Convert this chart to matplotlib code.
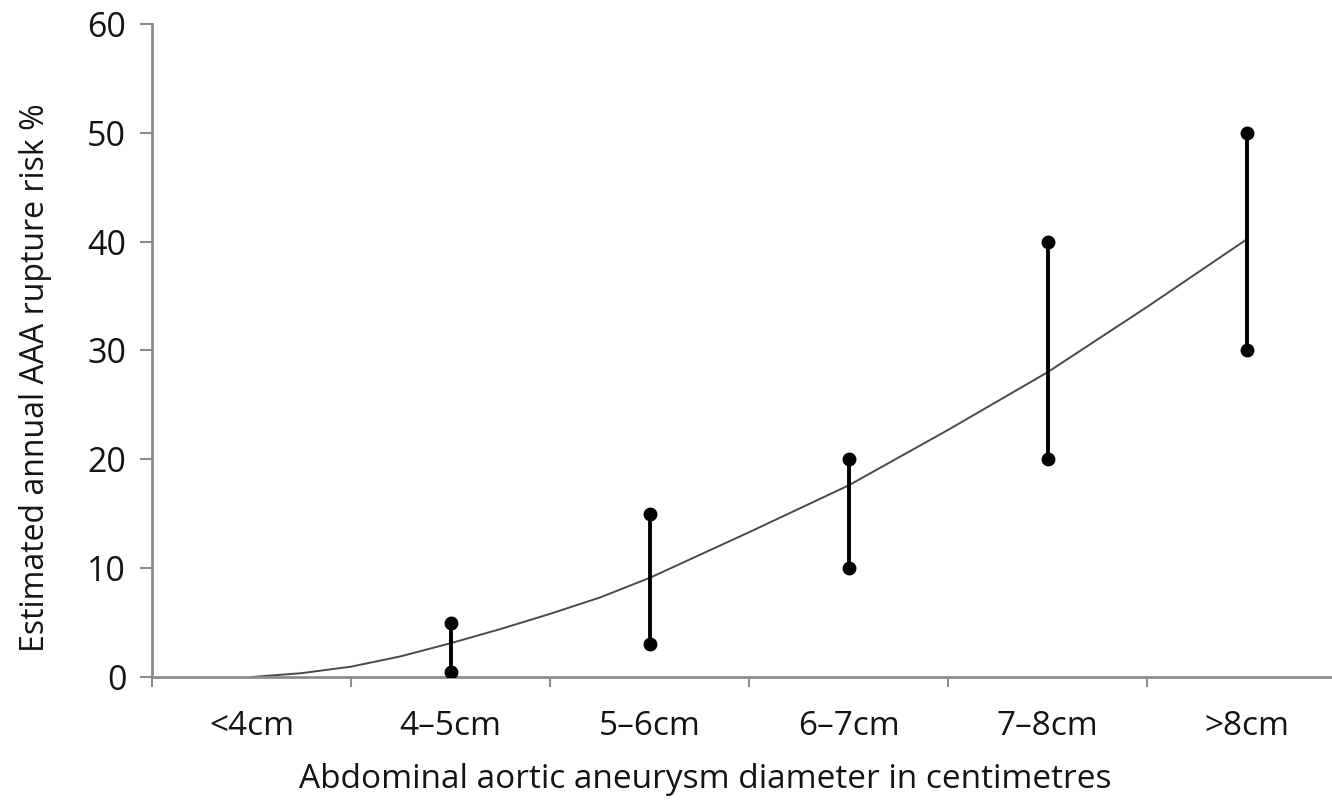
import numpy as np
import matplotlib
matplotlib.use("Agg")
import matplotlib.pyplot as plt

matplotlib.rcParams['font.family'] = ['Open Sans', 'DejaVu Sans']

# data
CATEGORIES = ["<4cm", "4\u20135cm", "5\u20136cm", "6\u20137cm", "7\u20138cm", ">8cm"]
RANGE_POS = [1, 2, 3, 4, 5]
RANGE_LOW = [0.5, 3, 10, 20, 30]
RANGE_HIGH = [5, 15, 20, 40, 50]

# trend curve
CURVE_POS = [0, 0.25, 0.5, 0.75, 1, 1.25, 1.5, 1.75, 2, 2.5, 3, 3.5, 4, 4.5, 5]
CURVE_VAL = [0, 0.35, 0.95, 1.9, 3.1, 4.4, 5.8, 7.3, 9.1, 13.3, 17.6, 22.7, 28.0, 34.0, 40.2]

Y_TICKS = [0, 10, 20, 30, 40, 50, 60]

TEXT_COLOR = "#141414"
AXIS_COLOR = "#8c8c8c"

W, H = 1332, 800
fig = plt.figure(figsize=(W / 100, H / 100), dpi=100)
fig.patch.set_facecolor('white')

# axes run past the right edge of the picture, like the reference crop
ax = fig.add_axes([152 / W, 1 - 677 / H, 1194 / W, (677 - 24) / H])

ax.plot(CURVE_POS, CURVE_VAL, color="#4a4a4a", linewidth=1.4, zorder=2,
        solid_joinstyle="round")

ax.vlines(RANGE_POS, RANGE_LOW, RANGE_HIGH, color="black", linewidth=2.8, zorder=3)
ax.plot(RANGE_POS, RANGE_LOW, "o", color="black", markersize=9, zorder=4)
ax.plot(RANGE_POS, RANGE_HIGH, "o", color="black", markersize=9, zorder=4)

ax.set_xlim(-0.5, len(CATEGORIES) - 0.5)
ax.set_ylim(0, 60)

ax.set_yticks(Y_TICKS)
ax.set_yticklabels([str(v) for v in Y_TICKS])
ax.tick_params(axis="y", direction="out", length=8.5, width=1.5,
               color=AXIS_COLOR, pad=10, labelsize=24.5, labelcolor=TEXT_COLOR)

ax.set_xticks(np.arange(len(CATEGORIES)))
ax.set_xticklabels(CATEGORIES)
ax.set_xticks(np.arange(len(CATEGORIES) + 1) - 0.5, minor=True)
ax.tick_params(axis="x", which="major", length=0, pad=24, labelsize=24,
               labelcolor=TEXT_COLOR)
ax.tick_params(axis="x", which="minor", direction="out", length=7, width=1.5,
               color=AXIS_COLOR)

for side in ["top", "right"]:
    ax.spines[side].set_visible(False)
for side in ["left", "bottom"]:
    ax.spines[side].set_color(AXIS_COLOR)
    ax.spines[side].set_linewidth(2)
ax.set_facecolor("white")

fig.text(705 / W, 1 - 780 / H, "Abdominal aortic aneurysm diameter in centimetres",
         ha="center", va="center", fontsize=24, color=TEXT_COLOR)
fig.text(36 / W, 1 - 378 / H, "Estimated annual AAA rupture risk %",
         ha="center", va="center", rotation=90, fontsize=23, color=TEXT_COLOR)

fig.savefig("out.png", dpi=100, facecolor="white")
